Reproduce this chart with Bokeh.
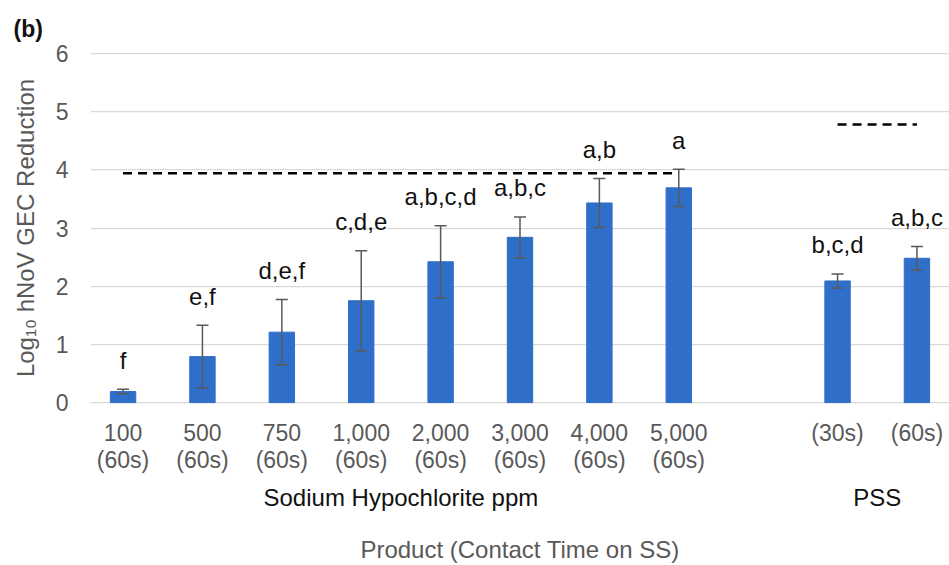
from bokeh.plotting import figure
from bokeh.models import FactorRange, Range1d, ColumnDataSource, Whisker, TeeHead, FixedTicker
from bokeh.core.properties import value
from bokeh.embed import file_html
from bokeh.resources import INLINE

# ---- data ----
naocl_ppm = ["100", "500", "750", "1,000", "2,000", "3,000", "4,000", "5,000"]
naocl_time = ["60s", "60s", "60s", "60s", "60s", "60s", "60s", "60s"]
naocl_mean = [0.19, 0.79, 1.21, 1.75, 2.42, 2.84, 3.43, 3.69]
naocl_err = [0.04, 0.54, 0.56, 0.86, 0.62, 0.35, 0.42, 0.32]
naocl_letters = ["f", "e,f", "d,e,f", "c,d,e", "a,b,c,d", "a,b,c", "a,b", "a"]
naocl_lod = 3.94

pss_time = ["30s", "60s"]
pss_mean = [2.09, 2.48]
pss_err = [0.12, 0.20]
pss_letters = ["b,c,d", "a,b,c"]
pss_lod = 4.78

group_names = ["Sodium Hypochlorite ppm", "PSS"]
x_title = "Product (Contact Time on SS)"
y_title = "Log\u2081\u2080 hNoV GEC Reduction"
panel_tag = "(b)"
y_ticks = [0, 1, 2, 3, 4, 5, 6]

# ---- build factors ----
naocl_f = [(group_names[0], f"{c}\n({t})") for c, t in zip(naocl_ppm, naocl_time)]
pss_f = [(group_names[1], f"({t})") for t in pss_time]
factors = naocl_f + pss_f

means = naocl_mean + pss_mean
errs = naocl_err + pss_err
letters = naocl_letters + pss_letters
src = ColumnDataSource(dict(
    x=factors, top=means,
    upper=[m + e for m, e in zip(means, errs)],
    lower=[m - e for m, e in zip(means, errs)],
    letters=letters,
))

FONT = "Liberation Sans"
GRAY = "#595959"
BLUE = "#2F6FC9"

p = figure(
    width=949, height=565,
    x_range=FactorRange(factors=factors, factor_padding=0.0, group_padding=1.0,
                        range_padding=-0.09, range_padding_units="absolute"),
    y_range=Range1d(-0.05, 6.05),
    output_backend="svg", toolbar_location=None,
    min_border_left=90, min_border_right=0, min_border_top=50, min_border_bottom=160,
)
p.outline_line_color = None
p.background_fill_color = "white"
p.border_fill_color = "white"

p.title.text = panel_tag
p.title.text_font = FONT
p.title.text_font_size = "23px"
p.title.text_font_style = "bold"
p.title.text_color = "#111111"
p.title.align = "left"
p.title.offset = -77
p.title.standoff = 18

p.vbar(x="x", top="top", bottom=0, width=0.32, source=src,
       fill_color=BLUE, line_color=BLUE)

w = Whisker(base="x", upper="upper", lower="lower", source=src, level="overlay",
            line_color=GRAY, line_width=1.5,
            upper_head=TeeHead(size=12, line_color=GRAY, line_width=1.5),
            lower_head=TeeHead(size=12, line_color=GRAY, line_width=1.5))
p.add_layout(w)

p.text(x="x", y="upper", text="letters", source=src,
       text_font=value(FONT), text_font_size="24px", text_color="#111111",
       text_align="center", text_baseline="alphabetic", y_offset=-29)

# limit-of-detection dashed lines
p.line(x=[naocl_f[0], naocl_f[-1]], y=[naocl_lod, naocl_lod],
       line_color="black", line_width=2.5, line_dash="9 6")
p.line(x=[pss_f[0], pss_f[-1]], y=[pss_lod, pss_lod],
       line_color="black", line_width=2.5, line_dash="9 6")

# axes
p.xgrid.visible = False
p.ygrid.grid_line_color = "#D9D9D9"
p.ygrid.grid_line_width = 1.25
p.yaxis.ticker = FixedTicker(ticks=y_ticks)
p.yaxis.minor_tick_line_color = None
p.yaxis.major_tick_line_color = None
p.yaxis.axis_line_color = None
p.yaxis.major_label_standoff = 16
p.yaxis.major_label_text_font = FONT
p.yaxis.major_label_text_font_size = "23px"
p.yaxis.major_label_text_color = GRAY
p.yaxis.axis_label = y_title
p.yaxis.axis_label_text_font = FONT
p.yaxis.axis_label_text_font_size = "24px"
p.yaxis.axis_label_text_font_style = "normal"
p.yaxis.axis_label_text_color = GRAY
p.yaxis.axis_label_standoff = 14

xa = p.xaxis[0]
xa.axis_line_color = None
xa.major_tick_line_color = None
xa.minor_tick_line_color = None
xa.separator_line_color = None
xa.major_label_standoff = 8
xa.major_label_text_font = FONT
xa.major_label_text_font_size = "23px"
xa.major_label_text_color = GRAY
xa.major_label_text_line_height = 1.05
xa.group_text_font = FONT
xa.group_text_font_size = "24px"
xa.group_text_font_style = "normal"
xa.group_text_color = "#111111"
xa.axis_label = x_title
xa.axis_label_text_font = FONT
xa.axis_label_text_font_size = "24px"
xa.axis_label_text_font_style = "normal"
xa.axis_label_text_color = GRAY
xa.axis_label_standoff = 22

open("out.html", "w").write(file_html(p, INLINE))
